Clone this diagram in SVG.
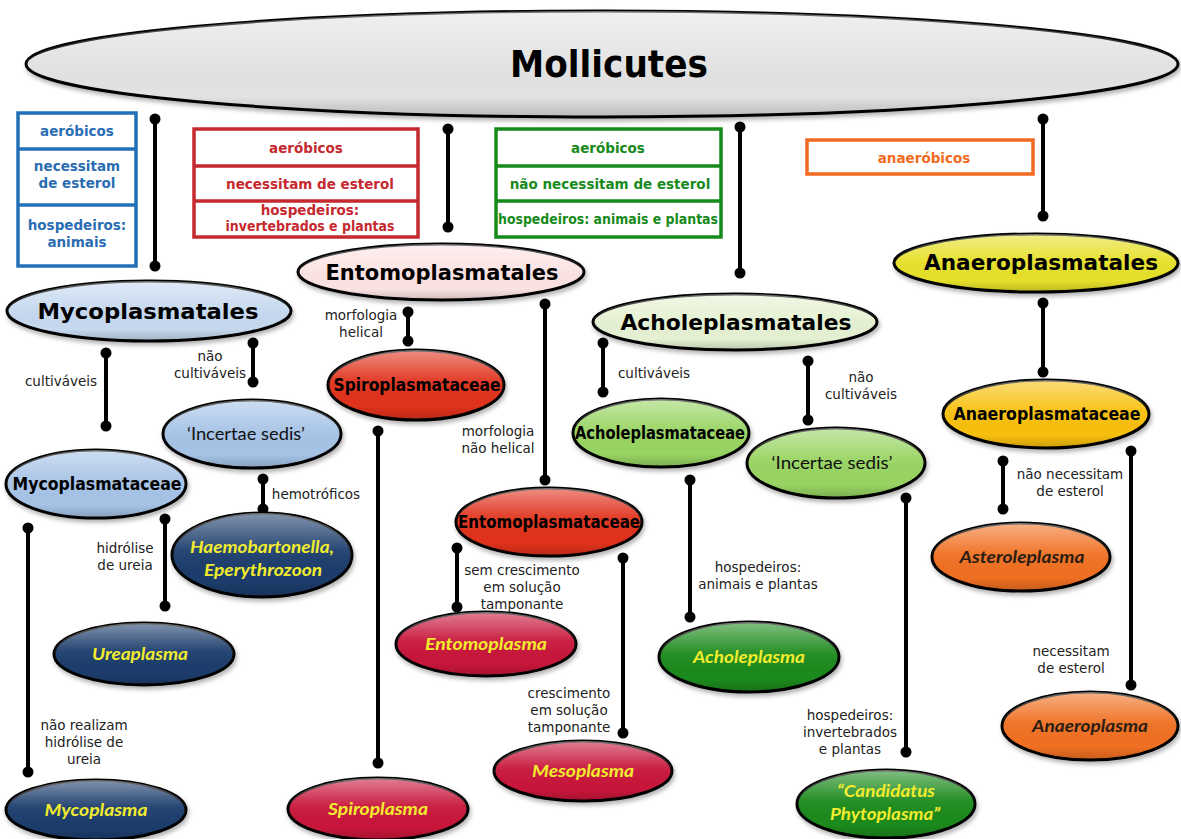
<svg xmlns="http://www.w3.org/2000/svg" width="1181" height="839" viewBox="0 0 1181 839">
<defs>
  <linearGradient id="gloss" x1="0" y1="0" x2="0" y2="1">
    <stop offset="0" stop-color="#fff" stop-opacity="0.45"/>
    <stop offset="0.45" stop-color="#fff" stop-opacity="0.05"/>
    <stop offset="0.8" stop-color="#000" stop-opacity="0"/>
    <stop offset="1" stop-color="#000" stop-opacity="0.18"/>
  </linearGradient>
  <filter id="sh" x="-10%" y="-20%" width="120%" height="150%">
    <feDropShadow dx="1.5" dy="3" stdDeviation="2" flood-color="#000" flood-opacity="0.3"/>
  </filter>
  <marker id="dot" viewBox="-6 -6 12 12" markerUnits="userSpaceOnUse" markerWidth="12" markerHeight="12" refX="0" refY="0" orient="auto">
    <circle r="5.5" fill="#000"/>
  </marker>
</defs>
<style>
  .el { stroke: #000; stroke-width: 3; filter: url(#sh); }
  .gl { fill: url(#gloss); stroke: none; }
  .box { fill: #fff; stroke-width: 3.5; }
  .bt { font-family: "DejaVu Sans", Verdana, sans-serif; font-weight: bold; font-size: 13.5px; text-anchor: middle; }
  .lbl { font-family: "DejaVu Sans", Verdana, sans-serif; font-size: 13.5px; fill: #222; text-anchor: middle; }
  .ord { font-family: "DejaVu Sans", Verdana, sans-serif; font-weight: bold; font-size: 22px; fill: #000; text-anchor: middle; }
  .fam { font-family: "DejaVu Sans", Verdana, sans-serif; font-weight: bold; font-size: 17px; fill: #000; text-anchor: middle; }
  .inc { font-family: Lato, "Open Sans", sans-serif; font-size: 17px; fill: #111; text-anchor: middle; }
  .gen { font-family: Lato, "Open Sans", sans-serif; font-weight: bold; font-style: italic; font-size: 17px; fill: #f2ec2e; text-anchor: middle; }
  .genD { font-family: Lato, "Open Sans", sans-serif; font-weight: bold; font-style: italic; font-size: 17px; fill: #2a1e14; text-anchor: middle; }
  .cn line { stroke: #000; stroke-width: 4; marker-start: url(#dot); marker-end: url(#dot); }
</style>
<rect width="1181" height="839" fill="#fff"/>

<!-- Root -->
<g id="mollicutes">
  <ellipse class="el" cx="602" cy="64" rx="576" ry="53" fill="#e3e3e3"/>
  <ellipse class="gl" cx="602" cy="64" rx="576" ry="53"/>
  <text x="609" y="77" font-family="DejaVu Sans, Verdana, sans-serif" font-weight="bold" font-size="38" text-anchor="middle" textLength="198" lengthAdjust="spacingAndGlyphs">Mollicutes</text>
</g>

<!-- Property boxes -->
<g id="box-myco" stroke="#2270b8">
  <rect class="box" x="18" y="113" width="118" height="153"/>
  <line x1="18" y1="149" x2="136" y2="149" stroke-width="3.5"/>
  <line x1="18" y1="205" x2="136" y2="205" stroke-width="3.5"/>
  <g fill="#2a6db3" stroke="none">
    <text class="bt" x="77" y="136">aeróbicos</text>
    <text class="bt" x="77" y="171">necessitam</text>
    <text class="bt" x="77" y="188">de esterol</text>
    <text class="bt" x="77" y="230">hospedeiros:</text>
    <text class="bt" x="77" y="247">animais</text>
  </g>
</g>
<g id="box-ento" stroke="#c5282e">
  <rect class="box" x="194" y="129" width="224" height="108"/>
  <line x1="194" y1="166" x2="418" y2="166" stroke-width="3.5"/>
  <line x1="194" y1="201" x2="418" y2="201" stroke-width="3.5"/>
  <g fill="#c5282e" stroke="none">
    <text class="bt" x="306" y="153">aeróbicos</text>
    <text class="bt" x="310" y="189">necessitam de esterol</text>
    <text class="bt" x="310" y="215" font-size="12.5">hospedeiros:</text>
    <text class="bt" x="310" y="231" font-size="12.5" textLength="169" lengthAdjust="spacingAndGlyphs">invertebrados e plantas</text>
  </g>
</g>
<g id="box-achole" stroke="#168a1a">
  <rect class="box" x="496" y="129" width="225" height="108"/>
  <line x1="496" y1="166" x2="721" y2="166" stroke-width="3.5"/>
  <line x1="496" y1="201" x2="721" y2="201" stroke-width="3.5"/>
  <g fill="#168a1a" stroke="none">
    <text class="bt" x="608" y="153">aeróbicos</text>
    <text class="bt" x="610" y="189">não necessitam de esterol</text>
    <text class="bt" x="608" y="224" font-size="12.3" textLength="220" lengthAdjust="spacingAndGlyphs">hospedeiros: animais e plantas</text>
  </g>
</g>
<g id="box-anaero" stroke="#f26a21">
  <rect class="box" x="807" y="140" width="226" height="34"/>
  <text class="bt" x="924" y="163" fill="#f26a21" stroke="none" font-size="13">anaeróbicos</text>
</g>

<!-- Connectors -->
<g id="connectors" class="cn">
  <line x1="155" y1="119" x2="155" y2="266"/>
  <line x1="448" y1="129" x2="448" y2="227"/>
  <line x1="740" y1="127" x2="740" y2="273"/>
  <line x1="1043" y1="119" x2="1043" y2="216"/>

  <line x1="106" y1="353" x2="106" y2="426"/>
  <line x1="253" y1="343" x2="253" y2="382"/>
  <line x1="408" y1="312" x2="408" y2="341"/>
  <line x1="545" y1="304" x2="545" y2="480"/>
  <line x1="603" y1="343" x2="603" y2="392"/>
  <line x1="808" y1="361" x2="808" y2="420"/>
  <line x1="1043" y1="303" x2="1043" y2="372"/>

  <line x1="263" y1="479" x2="263" y2="509"/>
  <line x1="165" y1="519" x2="165" y2="606"/>
  <line x1="28" y1="528" x2="28" y2="772"/>
  <line x1="378" y1="431" x2="378" y2="763"/>
  <line x1="457" y1="548" x2="457" y2="607"/>
  <line x1="623" y1="558" x2="623" y2="733"/>
  <line x1="690" y1="480" x2="690" y2="617"/>
  <line x1="906" y1="498" x2="906" y2="752"/>
  <line x1="1003" y1="461" x2="1003" y2="509"/>
  <line x1="1131" y1="451" x2="1131" y2="685"/>
</g>

<!-- Connector labels -->
<g id="labels">
  <text class="lbl" x="61" y="386">cultiváveis</text>
  <text class="lbl" x="210" y="361">não</text>
  <text class="lbl" x="210" y="378">cultiváveis</text>
  <text class="lbl" x="361" y="320">morfologia</text>
  <text class="lbl" x="361" y="337">helical</text>
  <text class="lbl" x="498" y="436">morfologia</text>
  <text class="lbl" x="498" y="453">não helical</text>
  <text class="lbl" x="654" y="378">cultiváveis</text>
  <text class="lbl" x="861" y="382">não</text>
  <text class="lbl" x="861" y="399">cultiváveis</text>
  <text class="lbl" x="316" y="499">hemotróficos</text>
  <text class="lbl" x="125" y="553">hidrólise</text>
  <text class="lbl" x="125" y="570">de ureia</text>
  <text class="lbl" x="84" y="730">não realizam</text>
  <text class="lbl" x="84" y="747">hidrólise de</text>
  <text class="lbl" x="84" y="764">ureia</text>
  <text class="lbl" x="522" y="575">sem crescimento</text>
  <text class="lbl" x="522" y="592">em solução</text>
  <text class="lbl" x="522" y="609">tamponante</text>
  <text class="lbl" x="569" y="698">crescimento</text>
  <text class="lbl" x="569" y="715">em solução</text>
  <text class="lbl" x="569" y="732">tamponante</text>
  <text class="lbl" x="758" y="572">hospedeiros:</text>
  <text class="lbl" x="758" y="589">animais e plantas</text>
  <text class="lbl" x="850" y="720">hospedeiros:</text>
  <text class="lbl" x="850" y="737">invertebrados</text>
  <text class="lbl" x="850" y="754">e plantas</text>
  <text class="lbl" x="1070" y="479">não necessitam</text>
  <text class="lbl" x="1070" y="496">de esterol</text>
  <text class="lbl" x="1071" y="656">necessitam</text>
  <text class="lbl" x="1071" y="673">de esterol</text>
</g>

<!-- Orders -->
<g id="mycoplasmatales">
  <ellipse class="el" cx="149" cy="311" rx="142" ry="30" fill="#c6d9ef"/>
  <ellipse class="gl" cx="149" cy="311" rx="142" ry="30"/>
  <text class="ord" x="148" y="319" textLength="221" lengthAdjust="spacingAndGlyphs">Mycoplasmatales</text>
</g>
<g id="entomoplasmatales">
  <ellipse class="el" cx="441" cy="272" rx="143" ry="28" fill="#fce3e3"/>
  <ellipse class="gl" cx="441" cy="272" rx="143" ry="28"/>
  <text class="ord" x="442" y="280" textLength="233" lengthAdjust="spacingAndGlyphs">Entomoplasmatales</text>
</g>
<g id="acholeplasmatales">
  <ellipse class="el" cx="735" cy="322" rx="142" ry="28" fill="#e5f1d2"/>
  <ellipse class="gl" cx="735" cy="322" rx="142" ry="28"/>
  <text class="ord" x="736" y="330" textLength="231" lengthAdjust="spacingAndGlyphs">Acholeplasmatales</text>
</g>
<g id="anaeroplasmatales">
  <ellipse class="el" cx="1036" cy="263" rx="142" ry="29" fill="#e6e02a"/>
  <ellipse class="gl" cx="1036" cy="263" rx="142" ry="29"/>
  <text class="ord" x="1041" y="270" textLength="234" lengthAdjust="spacingAndGlyphs">Anaeroplasmatales</text>
</g>

<!-- Families -->
<g id="mycoplasmataceae">
  <ellipse class="el" cx="96" cy="484" rx="90" ry="34" fill="#a6c3e6"/>
  <ellipse class="gl" cx="96" cy="484" rx="90" ry="34"/>
  <text class="fam" x="97" y="490" textLength="169" lengthAdjust="spacingAndGlyphs">Mycoplasmataceae</text>
</g>
<g id="incertae-myco">
  <ellipse class="el" cx="252" cy="434" rx="89" ry="34" fill="#a6c3e6"/>
  <ellipse class="gl" cx="252" cy="434" rx="89" ry="34"/>
  <text class="inc" x="246" y="440" textLength="118" lengthAdjust="spacingAndGlyphs">‘Incertae sedis’</text>
</g>
<g id="spiroplasmataceae">
  <ellipse class="el" cx="416" cy="385" rx="88" ry="35" fill="#e0301f"/>
  <ellipse class="gl" cx="416" cy="385" rx="88" ry="35"/>
  <text class="fam" x="417" y="391" textLength="167" lengthAdjust="spacingAndGlyphs">Spiroplasmataceae</text>
</g>
<g id="entomoplasmataceae">
  <ellipse class="el" cx="549" cy="522" rx="93" ry="34" fill="#e0301f"/>
  <ellipse class="gl" cx="549" cy="522" rx="93" ry="34"/>
  <text class="fam" x="549" y="528" textLength="182" lengthAdjust="spacingAndGlyphs">Entomoplasmataceae</text>
</g>
<g id="acholeplasmataceae">
  <ellipse class="el" cx="661" cy="433" rx="88" ry="34" fill="#98d462"/>
  <ellipse class="gl" cx="661" cy="433" rx="88" ry="34"/>
  <text class="fam" x="660" y="439" textLength="170" lengthAdjust="spacingAndGlyphs">Acholeplasmataceae</text>
</g>
<g id="incertae-achole">
  <ellipse class="el" cx="836" cy="463" rx="89" ry="35" fill="#98d462"/>
  <ellipse class="gl" cx="836" cy="463" rx="89" ry="35"/>
  <text class="inc" x="832" y="469" textLength="121" lengthAdjust="spacingAndGlyphs">‘Incertae sedis’</text>
</g>
<g id="anaeroplasmataceae">
  <ellipse class="el" cx="1046" cy="414" rx="103" ry="34" fill="#f8c00a"/>
  <ellipse class="gl" cx="1046" cy="414" rx="103" ry="34"/>
  <text class="fam" x="1047" y="420" textLength="187" lengthAdjust="spacingAndGlyphs">Anaeroplasmataceae</text>
</g>

<!-- Genera -->
<g id="haemobartonella">
  <ellipse class="el" cx="262" cy="555" rx="90" ry="42" fill="#1f3e6c"/>
  <ellipse class="gl" cx="262" cy="555" rx="90" ry="42"/>
  <text class="gen" x="262" y="553" textLength="144" lengthAdjust="spacingAndGlyphs">Haemobartonella,</text>
  <text class="gen" x="263" y="576" textLength="118" lengthAdjust="spacingAndGlyphs">Eperythrozoon</text>
</g>
<g id="ureaplasma">
  <ellipse class="el" cx="144" cy="654" rx="90" ry="31" fill="#1f3e6c"/>
  <ellipse class="gl" cx="144" cy="654" rx="90" ry="31"/>
  <text class="gen" x="140" y="660" textLength="96" lengthAdjust="spacingAndGlyphs">Ureaplasma</text>
</g>
<g id="mycoplasma">
  <ellipse class="el" cx="96" cy="810" rx="90" ry="30" fill="#1f3e6c"/>
  <ellipse class="gl" cx="96" cy="810" rx="90" ry="30"/>
  <text class="gen" x="96" y="816" textLength="103" lengthAdjust="spacingAndGlyphs">Mycoplasma</text>
</g>
<g id="spiroplasma">
  <ellipse class="el" cx="378" cy="809" rx="90" ry="31" fill="#c8163a"/>
  <ellipse class="gl" cx="378" cy="809" rx="90" ry="31"/>
  <text class="gen" x="378" y="815" textLength="100" lengthAdjust="spacingAndGlyphs">Spiroplasma</text>
</g>
<g id="entomoplasma">
  <ellipse class="el" cx="486" cy="644" rx="90" ry="32" fill="#c8163a"/>
  <ellipse class="gl" cx="486" cy="644" rx="90" ry="32"/>
  <text class="gen" x="486" y="650" textLength="122" lengthAdjust="spacingAndGlyphs">Entomoplasma</text>
</g>
<g id="mesoplasma">
  <ellipse class="el" cx="583" cy="771" rx="89" ry="30" fill="#c8163a"/>
  <ellipse class="gl" cx="583" cy="771" rx="89" ry="30"/>
  <text class="gen" x="583" y="777" textLength="102" lengthAdjust="spacingAndGlyphs">Mesoplasma</text>
</g>
<g id="acholeplasma">
  <ellipse class="el" cx="749" cy="657" rx="90" ry="35" fill="#1b8a1d"/>
  <ellipse class="gl" cx="749" cy="657" rx="90" ry="35"/>
  <text class="gen" x="749" y="663" textLength="112" lengthAdjust="spacingAndGlyphs">Acholeplasma</text>
</g>
<g id="phytoplasma">
  <ellipse class="el" cx="886" cy="804" rx="89" ry="34" fill="#1b8a1d"/>
  <ellipse class="gl" cx="886" cy="804" rx="89" ry="34"/>
  <text class="gen" x="886" y="797" textLength="98" lengthAdjust="spacingAndGlyphs">“Candidatus</text>
  <text class="gen" x="885" y="820" textLength="110" lengthAdjust="spacingAndGlyphs">Phytoplasma”</text>
</g>
<g id="asteroleplasma">
  <ellipse class="el" cx="1021" cy="557" rx="89" ry="34" fill="#f07021"/>
  <ellipse class="gl" cx="1021" cy="557" rx="89" ry="34"/>
  <text class="genD" x="1022" y="563" textLength="125" lengthAdjust="spacingAndGlyphs">Asteroleplasma</text>
</g>
<g id="anaeroplasma">
  <ellipse class="el" cx="1090" cy="726" rx="88" ry="34" fill="#f07021"/>
  <ellipse class="gl" cx="1090" cy="726" rx="88" ry="34"/>
  <text class="genD" x="1090" y="732" textLength="116" lengthAdjust="spacingAndGlyphs">Anaeroplasma</text>
</g>
</svg>
